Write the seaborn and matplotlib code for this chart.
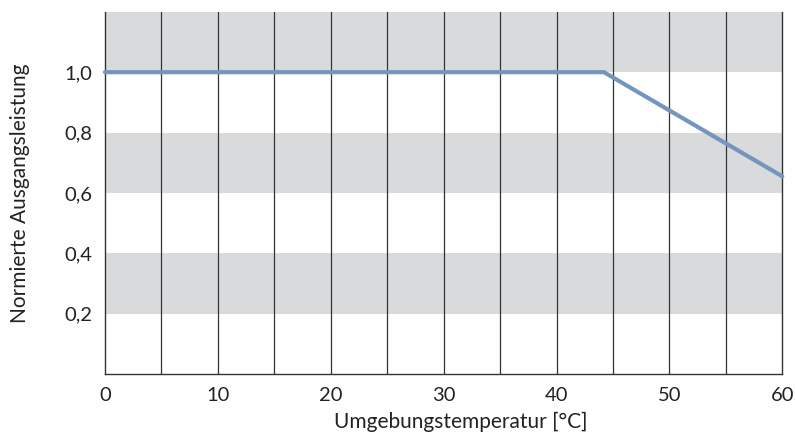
import matplotlib.pyplot as plt
import pandas as pd
import seaborn as sns

# derating curve
temperature = [0, 44.2, 60]
power = [1.0, 1.0, 0.655]

x_ticks = [0, 10, 20, 30, 40, 50, 60]
y_ticks = [0.2, 0.4, 0.6, 0.8, 1.0]
y_tick_labels = ["0,2", "0,4", "0,6", "0,8", "1,0"]
bands = [(0.2, 0.4), (0.6, 0.8), (1.0, 1.2)]

sns.set_style("white")
plt.rcParams["font.family"] = ["Lato", "DejaVu Sans"]

df = pd.DataFrame({"temp": temperature, "power": power})

fig = plt.figure(figsize=(7.95, 4.37), dpi=100)
ax = fig.add_axes([0.132, 0.144, 0.852, 0.829])

for lo, hi in bands:
    ax.axhspan(lo, hi, color="#d9dadc", lw=0, zorder=0)
for xv in range(5, 60, 5):
    ax.axvline(xv, color="#333333", lw=0.9, zorder=1)

sns.lineplot(data=df, x="temp", y="power", ax=ax, color="#7595bf", lw=3,
             zorder=3, clip_on=False)

ax.set_xlim(0, 60)
ax.set_ylim(0, 1.2)
ax.set_xticks(x_ticks)
ax.set_xticks(range(0, 61, 5), minor=True)
ax.set_yticks(y_ticks)
ax.set_yticklabels(y_tick_labels)
ax.tick_params(axis="both", which="both", direction="out", length=5,
               width=0.9, color="#333333", labelsize=14.5, labelcolor="#222222")
ax.tick_params(axis="x", which="major", pad=4)
ax.tick_params(axis="y", which="major", pad=4)
ax.tick_params(axis="x", which="minor", labelbottom=False)

for side in ["left", "bottom", "right"]:
    ax.spines[side].set_visible(True)
    ax.spines[side].set_color("#333333")
    ax.spines[side].set_linewidth(1.0)
ax.spines["top"].set_visible(False)

ax.set_xlabel("Umgebungstemperatur [°C]", fontsize=15, color="#222222")
ax.set_ylabel("Normierte Ausgangsleistung", fontsize=15, color="#222222")
ax.xaxis.set_label_coords(0.526, -0.105)
ax.yaxis.set_label_coords(-0.11, 0.5)

fig.savefig("out.png", dpi=100)
